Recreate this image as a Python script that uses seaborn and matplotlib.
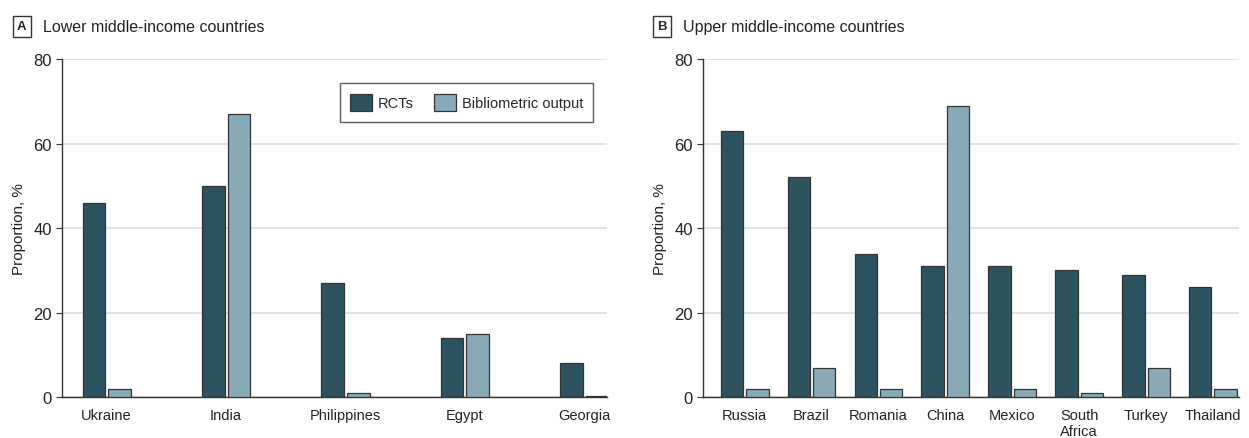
import matplotlib
matplotlib.use("Agg")
import matplotlib.pyplot as plt
import seaborn as sns
import pandas as pd

# panel A: lower middle-income
lower_countries = ["Ukraine", "India", "Philippines", "Egypt", "Georgia"]
lower_rcts = [46, 50, 27, 14, 8]
lower_biblio = [2, 67, 1, 15, 0.3]

# panel B: upper middle-income
upper_countries = ["Russia", "Brazil", "Romania", "China", "Mexico", "South\nAfrica", "Turkey", "Thailand"]
upper_rcts = [63, 52, 34, 31, 31, 30, 29, 26]
upper_biblio = [2, 7, 2, 69, 2, 1, 7, 2]

series = ["RCTs", "Bibliometric output"]
colors = {"RCTs": "#2e5360", "Bibliometric output": "#87a9b8"}

sns.set_style("white")
plt.rcParams["font.family"] = ["Liberation Sans", "DejaVu Sans"]


def long_table(countries, rcts, biblio):
    df = pd.DataFrame({"country": countries, series[0]: rcts, series[1]: biblio})
    return df.melt(id_vars="country", var_name="series", value_name="value")


fig = plt.figure(figsize=(12.49, 4.39), dpi=100)
ax_a = fig.add_axes([0.050, 0.093, 0.436, 0.770])
ax_b = fig.add_axes([0.563, 0.093, 0.429, 0.770])

panels = [
    (ax_a, long_table(lower_countries, lower_rcts, lower_biblio), 0.43, (-0.37, 4.19),
     "A", "Lower middle-income countries", 0.0176),
    (ax_b, long_table(upper_countries, upper_rcts, upper_biblio), 0.76, (-0.62, 7.39),
     "B", "Upper middle-income countries", 0.530),
]

for ax, df, w, xlim, letter, title, tx in panels:
    sns.barplot(data=df, x="country", y="value", hue="series", palette=colors,
                saturation=1, width=w, gap=0.12, edgecolor="#333333", linewidth=0.9,
                ax=ax, legend=(letter == "A"), zorder=3)
    ax.set_xlim(*xlim)
    ax.set_ylim(0, 80)
    ax.set_yticks([0, 20, 40, 60, 80])
    ax.yaxis.grid(True, color="#dddddd", linewidth=1.2, zorder=0)
    ax.set_axisbelow(True)
    for s in ["top", "right"]:
        ax.spines[s].set_visible(False)
    for s in ["left", "bottom"]:
        ax.spines[s].set_color("#333333")
        ax.spines[s].set_linewidth(1.0)
    ax.tick_params(axis="y", left=True, length=4, color="#333333", labelsize=12, labelcolor="#222222")
    ax.tick_params(axis="x", bottom=False, labelsize=10.5, labelcolor="#222222", pad=4)
    ax.set_xlabel("")
    ax.set_ylabel("Proportion, %", fontsize=11, color="#222222", labelpad=5)
    fig.text(tx, 0.938, letter, fontsize=9.5, fontweight="bold", ha="center", va="center",
             bbox=dict(boxstyle="square,pad=0.35", facecolor="white", edgecolor="#333333", linewidth=1))
    fig.text(tx + 0.017, 0.938, title, fontsize=11.5, ha="left", va="center", color="#222222")

leg = ax_a.legend(loc="upper right", bbox_to_anchor=(0.988, 0.95), ncol=2, frameon=True,
                  fontsize=10.5, handlelength=1.5, handleheight=1.5, columnspacing=1.4,
                  handletextpad=0.4, borderpad=0.7, fancybox=False)
leg.get_frame().set_edgecolor("#333333")
leg.get_frame().set_linewidth(1.0)

fig.savefig("out.png", dpi=100)
